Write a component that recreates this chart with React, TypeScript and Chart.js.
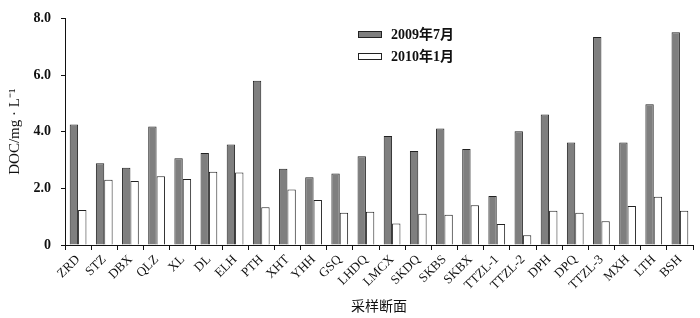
import React, { useEffect, useRef } from "react";
import { Chart, registerables } from "chart.js";

Chart.register(...registerables);

const categories = [
  "ZRD", "STZ", "DBX", "QLZ", "XL", "DL", "ELH", "PTH", "XHT", "YHH", "GSQ", "LHDQ",
  "LMCX", "SKDQ", "SKBS", "SKBX", "TTZL-1", "TTZL-2", "DPH", "DPQ", "TTZL-3", "MXH", "LTH", "BSH",
];
const july2009 = [
  4.25, 2.89, 2.73, 4.18, 3.06, 3.25, 3.55, 5.8, 2.69, 2.39, 2.52, 3.13,
  3.85, 3.32, 4.11, 3.39, 1.73, 4.02, 4.61, 3.62, 7.34, 3.62, 4.97, 7.51,
];
const jan2010 = [
  1.24, 2.3, 2.26, 2.43, 2.33, 2.59, 2.56, 1.33, 1.96, 1.59, 1.14, 1.17,
  0.76, 1.1, 1.07, 1.4, 0.74, 0.34, 1.21, 1.14, 0.84, 1.38, 1.7, 1.21,
];
const seriesNames = ["2009年7月", "2010年1月"];
const yTickLabels = ["0", "2.0", "4.0", "6.0", "8.0"];
const yTitle = "DOC/mg · L⁻¹";
const xTitle = "采样断面";

const SERIF = "'Liberation Serif', 'Times New Roman', 'Noto Sans CJK SC', serif";

const legendPlugin = {
  id: "customLegend",
  afterDraw(chart: any) {
    const ctx = chart.ctx;
    ctx.save();
    chart.data.datasets.forEach((ds: any, i: number) => {
      const x = 358;
      const y = 34 + i * 22;
      ctx.fillStyle = ds.backgroundColor;
      ctx.strokeStyle = "#222";
      ctx.lineWidth = 1;
      ctx.fillRect(x, y - 3, 24, 7);
      ctx.strokeRect(x + 0.5, y - 2.5, 23, 6);
      ctx.fillStyle = "#111";
      ctx.font = "bold 14px " + SERIF;
      ctx.textBaseline = "middle";
      ctx.textAlign = "left";
      ctx.fillText(ds.label, 391, y + 1);
    });
    ctx.restore();
  },
};

export default function App() {
  const ref = useRef<HTMLCanvasElement>(null);
  useEffect(() => {
    document.body.style.margin = "0";
    const chart = new Chart(ref.current!, {
      type: "bar",
      data: {
        labels: categories,
        datasets: [
          {
            label: seriesNames[0],
            data: july2009,
            backgroundColor: "#7f7f7f",
            borderColor: "#222",
            borderWidth: 1,
            categoryPercentage: 0.64,
            barPercentage: 1,
          },
          {
            label: seriesNames[1],
            data: jan2010,
            backgroundColor: "#ffffff",
            borderColor: "#222",
            borderWidth: 1,
            categoryPercentage: 0.64,
            barPercentage: 1,
          },
        ],
      },
      options: {
        animation: false,
        responsive: false,
        maintainAspectRatio: false,
        layout: { padding: { top: 10, right: 7, left: 0, bottom: 0 } },
        plugins: {
          legend: { display: false },
          tooltip: { enabled: false },
        },
        scales: {
          x: {
            border: { display: true, color: "#111", width: 1 },
            grid: {
              display: true,
              drawOnChartArea: false,
              drawTicks: true,
              tickLength: 5,
              color: "#111",
              offset: true,
            },
            ticks: {
              color: "#111",
              font: { family: SERIF, size: 13 },
              minRotation: 45,
              maxRotation: 45,
              padding: 2,
              autoSkip: false,
            },
            title: {
              display: true,
              text: xTitle,
              color: "#111",
              font: { family: SERIF, size: 14 },
              padding: { top: 0, bottom: 2 },
            },
            afterFit: (scale: any) => {
              scale.height = 73;
            },
          },
          y: {
            min: 0,
            max: 8,
            border: { display: true, color: "#111", width: 1 },
            grid: {
              display: true,
              drawOnChartArea: false,
              drawTicks: true,
              tickLength: 4,
              color: "#111",
            },
            ticks: {
              stepSize: 2,
              color: "#111",
              padding: 10,
              font: { family: SERIF, size: 14, weight: "bold" },
              callback: (_v: any, i: number) => yTickLabels[i],
            },
            title: {
              display: true,
              text: yTitle,
              color: "#111",
              font: { family: SERIF, size: 15 },
              padding: { top: 6, bottom: 0 },
            },
            afterFit: (scale: any) => {
              scale.width = 65;
            },
          },
        },
      },
      plugins: [legendPlugin],
    });
    return () => chart.destroy();
  }, []);
  return <canvas ref={ref} width={700} height={318} style={{ display: "block" }} />;
}
